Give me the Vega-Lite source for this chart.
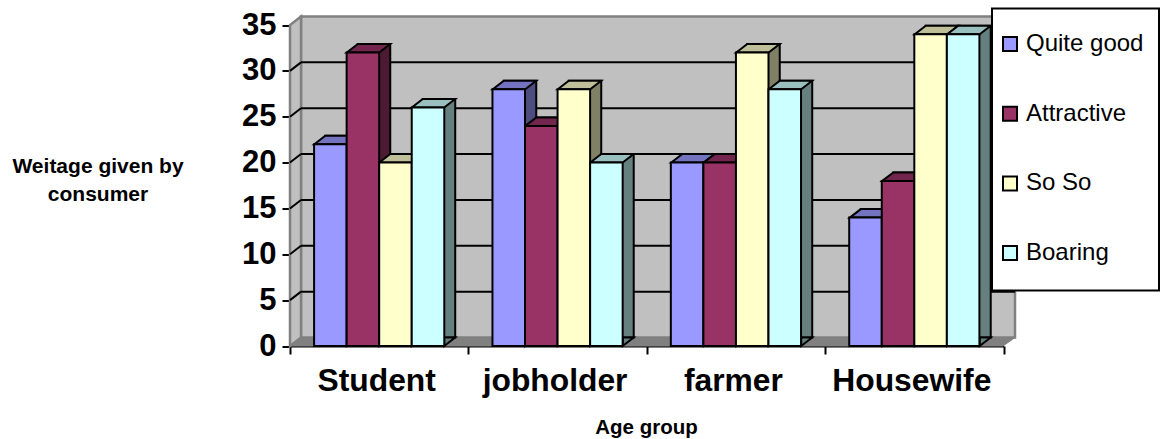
{
"$schema":"https://vega.github.io/schema/vega-lite/v6.json",
"width":714,"height":321,
"autosize":{"type":"none"},
"padding":{"left":301,"top":16.5,"right":145,"bottom":101.5},
"background":"white",
"config":{"font":"Liberation Sans","view":{"fill":"#c0c0c0","stroke":"#808080","strokeWidth":2.5}},
"datasets":{
"main":[
{"group":"Student","series":"Quite good","value":22},{"group":"Student","series":"Attractive","value":32},{"group":"Student","series":"So So","value":20},{"group":"Student","series":"Boaring","value":26},
{"group":"jobholder","series":"Quite good","value":28},{"group":"jobholder","series":"Attractive","value":24},{"group":"jobholder","series":"So So","value":28},{"group":"jobholder","series":"Boaring","value":20},
{"group":"farmer","series":"Quite good","value":20},{"group":"farmer","series":"Attractive","value":20},{"group":"farmer","series":"So So","value":32},{"group":"farmer","series":"Boaring","value":28},
{"group":"Housewife","series":"Quite good","value":14},{"group":"Housewife","series":"Attractive","value":18},{"group":"Housewife","series":"So So","value":34},{"group":"Housewife","series":"Boaring","value":34}],
"grid":[{"g":5},{"g":10},{"g":15},{"g":20},{"g":25},{"g":30}],
"top":[{"g":35}],
"floor":[{"g":0}]
},
"resolve":{"scale":{"x":"independent","y":"independent","fill":"independent","xOffset":"independent"},"axis":{"x":"independent","y":"independent"}},
"layer":[
{"resolve":{"scale":{"fill":"independent"}},
 "layer":[
 {"data":{"name":"top"},"mark":{"type":"point","filled":true,"fill":"#c0c0c0","stroke":"#808080","strokeWidth":2.5,"opacity":1,"size":4,"shape":"M-357,0 L-368,8.5 L-368,329.5 L-357,321 Z"},
  "encoding":{"y":{"field":"g","type":"quantitative","scale":{"domain":[0,35],"nice":false},"axis":null}}},
 {"data":{"name":"floor"},"mark":{"type":"point","filled":true,"fill":"#808080","stroke":"#808080","strokeWidth":1,"opacity":1,"size":4,"shape":"M-357,0 L-368,8.5 L345,8.5 L357,0 Z"},
  "encoding":{"y":{"field":"g","type":"quantitative","axis":null}}},
 {"data":{"name":"grid"},"mark":{"type":"rule","color":"black","strokeWidth":2},
  "encoding":{"y":{"field":"g","type":"quantitative","axis":null}}},
 {"data":{"name":"grid"},"mark":{"type":"point","filled":false,"stroke":"black","strokeWidth":2,"opacity":1,"size":4,"shape":"M-357,0 L-368,8.5"},
  "encoding":{"y":{"field":"g","type":"quantitative","axis":null}}},
 {"data":{"name":"main"},"mark":{"type":"bar","stroke":"black","strokeWidth":2},
  "encoding":{
   "x":{"field":"group","type":"nominal","sort":["Student","jobholder","farmer","Housewife"],"scale":{"paddingInner":0.272,"paddingOuter":0.136},"axis":null},
   "xOffset":{"field":"series","type":"nominal","sort":["Quite good","Attractive","So So","Boaring"]},
   "y":{"field":"value","type":"quantitative","axis":null},
   "fill":{"field":"series","type":"nominal","scale":{"domain":["Quite good","Attractive","So So","Boaring"],"range":["#4d4d80","#4d1a33","#808066","#668080"]},"legend":null}}},
 {"data":{"name":"main"},"mark":{"type":"point","filled":true,"stroke":"black","strokeWidth":2,"opacity":1,"size":4,"shape":"M5.2,8.5 L16.2,0 L5.2,0 Z"},
  "encoding":{
   "x":{"field":"group","type":"nominal","sort":["Student","jobholder","farmer","Housewife"],"axis":null},
   "xOffset":{"field":"series","type":"nominal","sort":["Quite good","Attractive","So So","Boaring"]},
   "y":{"datum":0,"type":"quantitative","axis":null},
   "fill":{"field":"series","type":"nominal","scale":{"domain":["Quite good","Attractive","So So","Boaring"],"range":["#4d4d80","#4d1a33","#808066","#668080"]},"legend":null}}},
 {"data":{"name":"main"},"mark":{"type":"point","filled":true,"stroke":"black","strokeWidth":2,"opacity":1,"size":4,"shape":"M-27.2,8.5 L-16.2,0 L16.2,0 L5.2,8.5 Z"},
  "encoding":{
   "x":{"field":"group","type":"nominal","sort":["Student","jobholder","farmer","Housewife"],"axis":null},
   "xOffset":{"field":"series","type":"nominal","sort":["Quite good","Attractive","So So","Boaring"]},
   "y":{"field":"value","type":"quantitative","axis":null},
   "fill":{"field":"series","type":"nominal","scale":{"domain":["Quite good","Attractive","So So","Boaring"],"range":["#7373bf","#73264d","#bfbf99","#99bfbf"]},"legend":null}}}
 ]},
{"data":{"name":"main"},"mark":{"type":"bar","stroke":"black","strokeWidth":2},
 "encoding":{
  "x":{"field":"group","type":"nominal","sort":["Student","jobholder","farmer","Housewife"],"scale":{"range":[-11,702.5],"paddingInner":0,"paddingOuter":0},
   "axis":{"title":"Age group","titleFont":"Liberation Sans","titleFontSize":20.5,"titleFontWeight":"bold","titleColor":"black","titleX":345,"titleY":71,"labelFont":"Liberation Sans","labelFontSize":31.8,"labelFontWeight":"bold","labelColor":"black","labelAngle":0,"labelPadding":11,"labelOffset":-3,"labelLimit":300,"tickBand":"extent","tickColor":"black","tickWidth":2,"tickSize":8,"domainColor":"black","domainWidth":2,"offset":8.5,"grid":false}},
  "xOffset":{"field":"series","type":"nominal","sort":["Quite good","Attractive","So So","Boaring"],"scale":{"paddingInner":0,"paddingOuter":0.74}},
  "y":{"field":"value","type":"quantitative","scale":{"domain":[0,35],"nice":false,"range":[329.5,8.5]},
   "axis":{"title":["Weitage given by","consumer"],"titleFont":"Liberation Sans","titleFontSize":21,"titleFontWeight":"bold","titleColor":"black","titleAngle":0,"titleAlign":"center","titleBaseline":"middle","titleLineHeight":27.5,"titleX":-192.5,"titleY":150,"labelFont":"Liberation Sans","labelFontSize":31,"labelFontWeight":"bold","labelColor":"black","labelPadding":6,"values":[0,5,10,15,20,25,30,35],"tickColor":"black","tickWidth":2,"tickSize":8,"domainColor":"black","domainWidth":2,"offset":11,"grid":false}},
  "fill":{"field":"series","type":"nominal","scale":{"domain":["Quite good","Attractive","So So","Boaring"],"range":["#9999ff","#993366","#ffffcc","#ccffff"]},
   "legend":{"orient":"none","legendX":697,"legendY":15.5,"title":null,"padding":0,"symbolType":"square","symbolSize":196,"symbolStrokeColor":"black","symbolStrokeWidth":2,"symbolOpacity":1,"labelFont":"Liberation Sans","labelFontSize":24,"labelColor":"black","labelOffset":4,"labelLimit":200,"rowPadding":45.7}}}},
{"data":{"name":"top"},"mark":{"type":"point","filled":true,"fill":"white","stroke":"black","strokeWidth":2,"opacity":1,"size":4,"shape":"M334,-8 L501,-8 L501,274 L334,274 Z"},
 "encoding":{"y":{"field":"g","type":"quantitative","scale":{"domain":[0,35],"nice":false},"axis":null}}}
]
}
